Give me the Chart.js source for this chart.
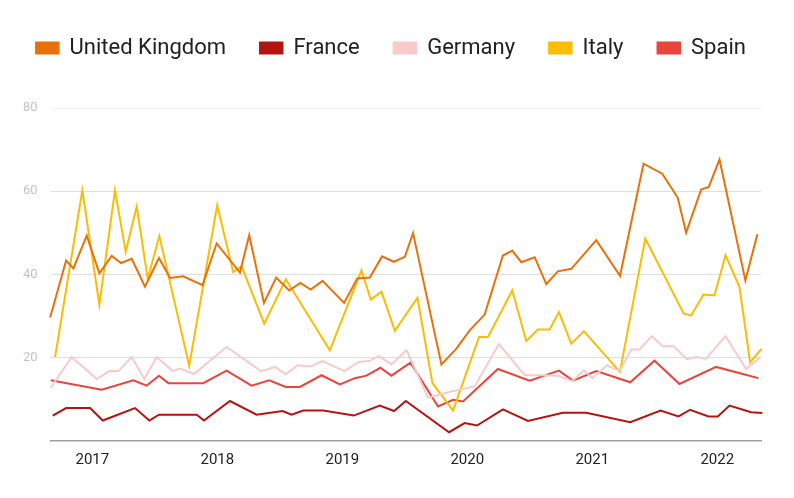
<!DOCTYPE html>
<html>
<head>
<meta charset="utf-8">
<script src="https://cdn.jsdelivr.net/npm/chart.js@4.4.1/dist/chart.umd.min.js"></script>
<style>
  html, body { margin: 0; padding: 0; background: #fff; }
  #wrap { width: 794px; height: 498px; }
</style>
</head>
<body>
<div id="wrap"><canvas id="trend-chart"></canvas></div>
<script>
// series names and year tick labels
const countries = ["United Kingdom", "France", "Germany", "Italy", "Spain"];
const yearTicks = [2017, 2018, 2019, 2020, 2021, 2022];
const valueTicks = [20, 40, 60, 80];

// x = decimal year, y = value
const ukYears = [2016.662, 2016.790, 2016.848, 2016.955, 2017.056, 2017.155, 2017.229, 2017.315, 2017.421, 2017.533,
  2017.621, 2017.727, 2017.882, 2017.994, 2018.181, 2018.255, 2018.373, 2018.471, 2018.575, 2018.664,
  2018.747, 2018.842, 2019.014, 2019.120, 2019.220, 2019.318, 2019.412, 2019.500, 2019.566, 2019.793,
  2019.913, 2020.019, 2020.139, 2020.285, 2020.360, 2020.432, 2020.539, 2020.632, 2020.725, 2020.832,
  2021.032, 2021.222, 2021.410, 2021.560, 2021.684, 2021.751, 2021.871, 2021.932, 2022.018, 2022.225, 2022.321];
const ukValues = [29.6, 43.3, 41.4, 49.3, 40.2, 44.4, 42.7, 43.7, 37.0, 43.9,
  39.1, 39.5, 37.4, 47.4, 40.4, 49.4, 33.1, 39.2, 36.1, 37.9,
  36.3, 38.4, 33.1, 39.0, 39.2, 44.3, 43.0, 44.2, 49.9, 18.3,
  22.1, 26.5, 30.3, 44.5, 45.7, 42.9, 44.1, 37.6, 40.7, 41.3,
  48.2, 39.6, 66.6, 64.2, 58.4, 50.0, 60.4, 61.0, 67.6, 38.5, 49.6];

const frYears = [2016.683, 2016.790, 2016.982, 2017.083, 2017.341, 2017.456, 2017.533, 2017.835, 2017.893, 2018.101,
  2018.314, 2018.522, 2018.594, 2018.687, 2018.847, 2019.092, 2019.300, 2019.414, 2019.508, 2019.854,
  2019.979, 2020.078, 2020.285, 2020.485, 2020.765, 2020.952, 2021.304, 2021.546, 2021.690, 2021.783,
  2021.930, 2022.004, 2022.098, 2022.271, 2022.361];
const frValues = [6.0, 7.8, 7.8, 4.8, 7.8, 4.8, 6.2, 6.2, 4.8, 9.5,
  6.2, 7.1, 6.2, 7.2, 7.2, 6.0, 8.4, 7.1, 9.5, 2.0,
  4.2, 3.6, 7.5, 4.7, 6.7, 6.7, 4.4, 7.2, 5.8, 7.4,
  5.8, 5.8, 8.4, 6.8, 6.6];

const deYears = [2016.667, 2016.835, 2017.035, 2017.136, 2017.208, 2017.315, 2017.416, 2017.515, 2017.643, 2017.701,
  2017.813, 2018.074, 2018.349, 2018.464, 2018.546, 2018.643, 2018.748, 2018.842, 2019.016, 2019.132,
  2019.212, 2019.292, 2019.394, 2019.513, 2019.686, 2019.886, 2020.059, 2020.253, 2020.459, 2020.619,
  2020.725, 2020.840, 2020.933, 2021.000, 2021.118, 2021.218, 2021.312, 2021.378, 2021.476, 2021.564,
  2021.650, 2021.756, 2021.831, 2021.911, 2022.066, 2022.231, 2022.349];
const deValues = [12.7, 20.1, 14.8, 16.7, 16.7, 20.1, 14.8, 20.1, 16.7, 17.3,
  16.0, 22.5, 16.7, 17.7, 15.9, 18.1, 17.8, 19.1, 16.7, 18.9,
  19.1, 20.3, 18.3, 21.7, 10.3, 11.9, 13.0, 23.2, 15.7, 15.7,
  15.6, 14.3, 16.9, 15.0, 18.1, 16.7, 21.9, 21.9, 25.1, 22.7,
  22.7, 19.6, 20.1, 19.7, 25.1, 17.2, 20.1];

const itYears = [2016.702, 2016.920, 2017.056, 2017.181, 2017.267, 2017.355, 2017.443, 2017.536, 2017.775, 2017.999,
  2018.127, 2018.194, 2018.375, 2018.548, 2018.900, 2019.153, 2019.228, 2019.313, 2019.420, 2019.601,
  2019.721, 2019.886, 2020.094, 2020.165, 2020.360, 2020.472, 2020.565, 2020.659, 2020.733, 2020.832,
  2020.933, 2021.221, 2021.424, 2021.732, 2021.791, 2021.890, 2021.978, 2022.066, 2022.178, 2022.263, 2022.356];
const itValues = [20.1, 60.2, 32.7, 60.2, 45.4, 56.3, 38.9, 49.2, 18.0, 56.6,
  40.5, 41.9, 28.1, 38.8, 21.7, 40.9, 33.9, 35.8, 26.4, 34.3,
  13.8, 7.2, 24.9, 24.9, 36.1, 23.9, 26.7, 26.7, 30.9, 23.3,
  26.3, 16.5, 48.6, 30.5, 30.1, 35.1, 34.9, 44.6, 36.9, 18.8, 22.1];

const esYears = [2016.667, 2017.075, 2017.328, 2017.435, 2017.533, 2017.608, 2017.887, 2018.074, 2018.274, 2018.415,
  2018.548, 2018.660, 2018.834, 2018.980, 2019.100, 2019.193, 2019.305, 2019.393, 2019.545, 2019.766,
  2019.886, 2019.966, 2020.245, 2020.499, 2020.733, 2020.845, 2021.032, 2021.304, 2021.498, 2021.698,
  2021.991, 2022.204, 2022.329];
const esValues = [14.5, 12.2, 14.5, 13.2, 15.6, 13.8, 13.8, 16.8, 13.2, 14.5,
  12.9, 12.9, 15.7, 13.5, 15.0, 15.6, 17.5, 15.6, 18.7, 8.2,
  9.8, 9.4, 17.2, 14.4, 16.8, 14.4, 16.7, 14.0, 19.2, 13.6,
  17.7, 16.0, 15.0];

const colors = ["#e8710a", "#b31412", "#f7cbc9", "#fbbc04", "#e8453c"];

function toPoints(xs, ys) {
    return xs.map((x, i) => ({ x: x, y: ys[i] }));
}

const seriesData = [
    toPoints(ukYears, ukValues),
    toPoints(frYears, frValues),
    toPoints(deYears, deValues),
    toPoints(itYears, itValues),
    toPoints(esYears, esValues)
];

// extra room between the legend and the plot
const legendGap = {
    id: "legendGap",
    beforeInit(chart) {
        const fit = chart.legend.fit;
        chart.legend.fit = function () {
            fit.bind(chart.legend)();
            this.height += 39;
        };
    }
};

const cnv = document.getElementById("trend-chart");
const ctx = cnv.getContext("2d");

const trendChart = new Chart(ctx, {
    type: "line",
    data: {
        datasets: countries.map((name, i) => ({
            label: name,
            data: seriesData[i],
            borderColor: colors[i],
            backgroundColor: colors[i],
            borderWidth: 2,
            pointRadius: 0,
            tension: 0,
            clip: 6
        }))
    },
    options: {
        responsive: true,
        maintainAspectRatio: false,
        animation: false,
        layout: { padding: { top: 3, right: 12, bottom: 17.5, left: 0 } },
        plugins: {
            legend: {
                position: "top",
                labels: {
                    boxWidth: 22.5,
                    boxHeight: 11,
                    padding: 34,
                    color: "#202124",
                    font: { family: "Roboto", size: 22 }
                }
            },
            tooltip: { enabled: false }
        },
        scales: {
            x: {
                type: "linear",
                min: 2016.665,
                max: 2022.35,
                afterBuildTicks: s => { s.ticks = yearTicks.map(v => ({ value: v })); },
                ticks: {
                    color: "#202124",
                    padding: 11,
                    maxRotation: 0,
                    font: { family: "Roboto", size: 15 },
                    callback: v => String(v)
                },
                grid: { display: false, drawTicks: false },
                border: { display: true, color: "#9e9e9e", width: 1.5 }
            },
            y: {
                min: 0,
                max: 80,
                afterBuildTicks: s => { s.ticks = valueTicks.map(v => ({ value: v })); },
                afterFit: s => { s.width = 50.5; },
                ticks: {
                    color: "#c4c4c4",
                    padding: 13,
                    font: { family: "Roboto", size: 13 }
                },
                grid: {
                    drawTicks: false,
                    color: c => c.tick && c.tick.value === 80 ? "#efefef" : "#dedede"
                },
                border: { display: false }
            },
            // empty right-hand axis, only keeps a margin on the right
            yRight: {
                position: "right",
                min: 0,
                max: 80,
                afterFit: s => { s.width = 21; },
                ticks: { display: false },
                grid: { display: false, drawTicks: false },
                border: { display: false }
            }
        }
    },
    plugins: [legendGap]
});
</script>
</body>
</html>
